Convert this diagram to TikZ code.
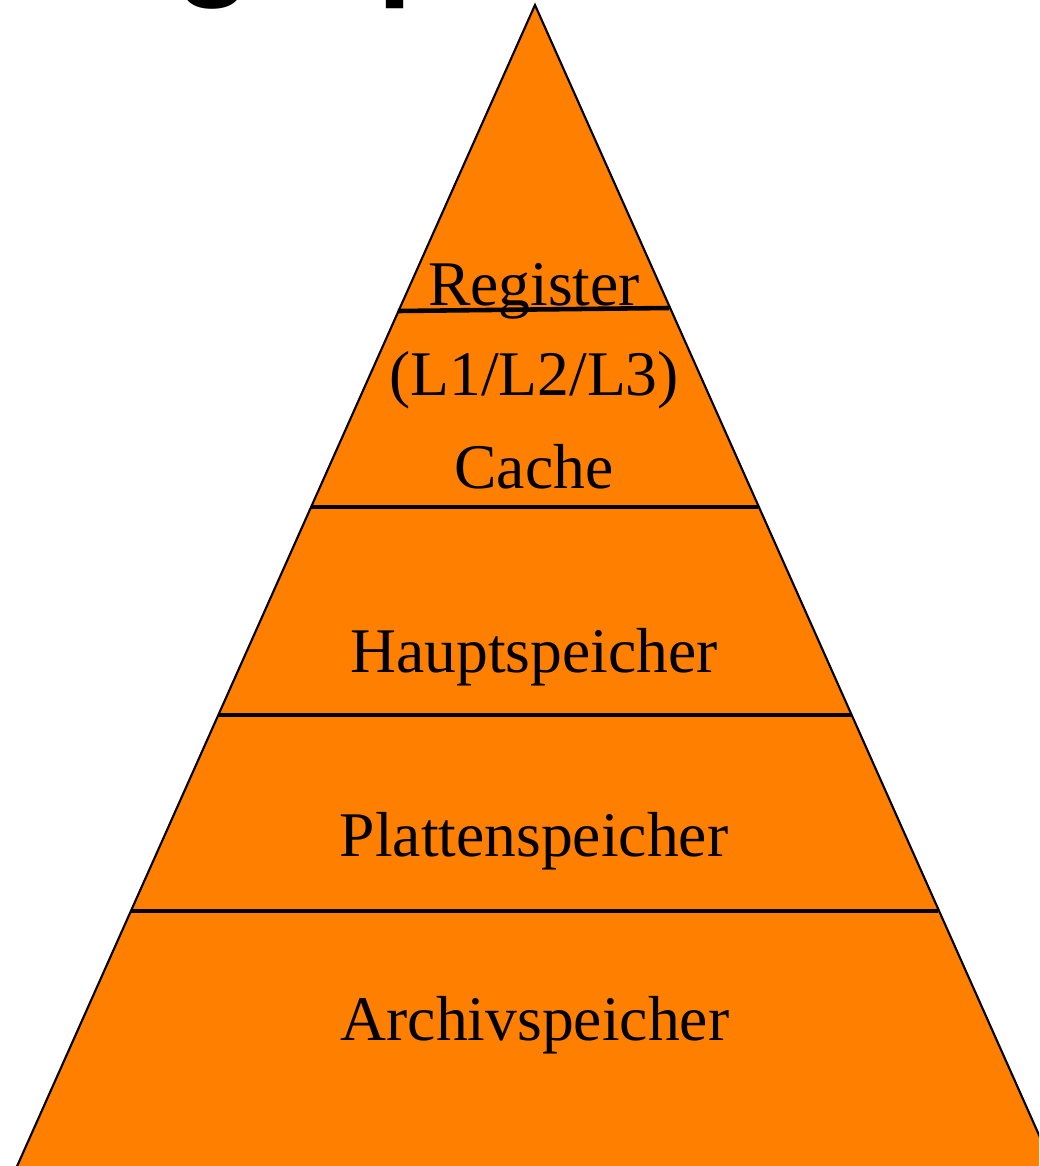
\documentclass[tikz,border=0pt]{standalone}
\usepackage{fontspec}
\setmainfont{Liberation Serif}
\newfontfamily\titlefont{Liberation Sans}
\usepackage{tikz}
\usetikzlibrary{calc}
\definecolor{pyramid}{RGB}{255,127,0}

\begin{document}
\begin{tikzpicture}[x=0.02cm,y=-0.02cm,
    level/.style={anchor=base,inner sep=0pt,font=\fontsize{36.2}{40}\selectfont},
    sep/.style={line width=2.6pt}]
        \useasboundingbox (0,0) rectangle (1039,1166);
        \clip (0,0) rectangle (1039,1166);
        % pyramid
        \coordinate (top) at (535,5);
        \coordinate (bl) at (2,1200);
        \coordinate (br) at (1068,1200);
        \fill[pyramid] (top) -- (bl) -- (br) -- cycle;
        \draw[line width=1.2pt] (bl) -- (top) -- (br);
        % title (cut off at the top)
        \node[anchor=base,inner sep=0pt,font=\titlefont\bfseries\fontsize{72}{80}\selectfont] (tg) at (214,-17) {g};
        \node[anchor=base,inner sep=0pt,font=\titlefont\bfseries\fontsize{72}{80}\selectfont] (tp) at (416,-17) {p};
        % levels
        \node[level] (reg) at (534,305) {Register};
        \node[level] (cache1) at (534,395) {(L1/L2/L3)};
        \node[level] (cache2) at (534,488) {Cache};
        \node[level] (haupt) at (534,672) {Hauptspeicher};
        \node[level] (platte) at (534,856) {Plattenspeicher};
        \node[level] (archiv) at (535,1040) {Archivspeicher};
        % separating lines
        \coordinate (l1a) at (398,311);
        \coordinate (l1b) at (669,308);
        \coordinate (l2a) at (311,507);
        \coordinate (l2b) at (758,507);
        \coordinate (l3a) at (218,715);
        \coordinate (l3b) at (851,715);
        \coordinate (l4a) at (131,911);
        \coordinate (l4b) at (938,911);
        \draw[sep] (l1a) -- (l1b);
        \draw[sep] (l2a) -- (l2b);
        \draw[sep] (l3a) -- (l3b);
        \draw[sep] (l4a) -- (l4b);
    \end{tikzpicture}
\end{document}
